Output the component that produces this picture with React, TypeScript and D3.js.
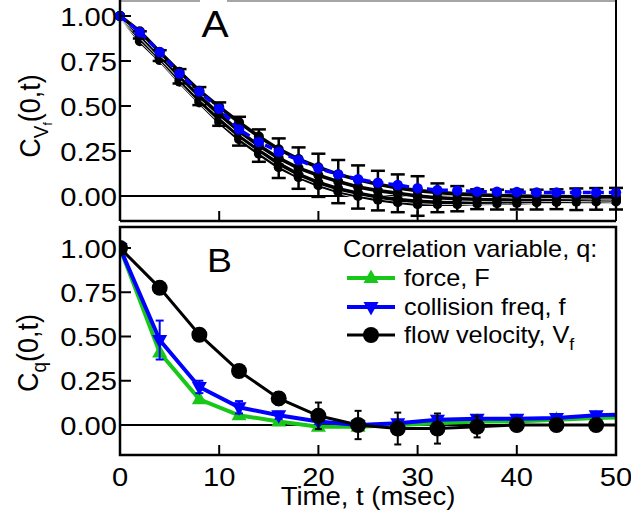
import React from "react";
import * as d3 from "d3";

// ---------- Panel A data (t every 2 ms) ----------
const timesA = [0, 2, 4, 6, 8, 10, 12, 14, 16, 18, 20, 22, 24, 26, 28, 30, 32, 34, 36, 38, 40, 42, 44, 46, 48, 50];
const blackA1 = [1.0, 0.915, 0.8, 0.69, 0.585, 0.495, 0.41, 0.33, 0.26, 0.205, 0.16, 0.12, 0.09, 0.065, 0.045, 0.03, 0.02, 0.012, 0.006, 0.003, 0.0, -0.002, -0.003, -0.004, -0.005, -0.005];
const blackA2 = [1.0, 0.895, 0.78, 0.665, 0.555, 0.455, 0.36, 0.28, 0.21, 0.155, 0.115, 0.08, 0.05, 0.03, 0.015, 0.0, -0.01, -0.015, -0.018, -0.02, -0.02, -0.02, -0.018, -0.018, -0.016, -0.015];
const errA2 = [0, 0.02, 0.03, 0.04, 0.05, 0.065, 0.08, 0.09, 0.11, 0.115, 0.12, 0.12, 0.12, 0.11, 0.105, 0.11, 0.08, 0.07, 0.055, 0.055, 0.055, 0.055, 0.055, 0.06, 0.06, 0.06];
const blackA3 = [1.0, 0.875, 0.765, 0.645, 0.53, 0.425, 0.335, 0.255, 0.18, 0.12, 0.075, 0.04, 0.015, -0.005, -0.02, -0.03, -0.035, -0.035, -0.035, -0.033, -0.032, -0.03, -0.03, -0.028, -0.027, -0.025];
const blackA4 = [1.0, 0.86, 0.755, 0.635, 0.52, 0.41, 0.315, 0.235, 0.16, 0.105, 0.06, 0.025, 0.0, -0.02, -0.035, -0.045, -0.045, -0.045, -0.042, -0.04, -0.038, -0.035, -0.033, -0.032, -0.03, -0.03];
const blueA = [1.0, 0.91, 0.8, 0.68, 0.58, 0.485, 0.37, 0.3, 0.246, 0.2, 0.154, 0.12, 0.093, 0.074, 0.061, 0.043, 0.033, 0.03, 0.024, 0.024, 0.022, 0.02, 0.02, 0.02, 0.02, 0.02];

// ---------- Panel B data (t every 4 ms) ----------
const timesB = [0, 4, 8, 12, 16, 20, 24, 28, 32, 36, 40, 44, 48, 52];
const forceB = [1.0, 0.41, 0.145, 0.055, 0.02, -0.01, -0.01, 0.0, 0.01, 0.02, 0.02, 0.03, 0.04, 0.045];
const collB = [1.0, 0.48, 0.215, 0.1, 0.055, 0.02, 0.0, 0.01, 0.03, 0.035, 0.035, 0.04, 0.055, 0.06];
const collErrB = [0, 0.11, 0.035, 0.035, 0.02, 0.015, 0.015, 0.015, 0.015, 0.015, 0.015, 0.015, 0.015, 0];
const flowB = [1.0, 0.775, 0.51, 0.305, 0.15, 0.052, 0.0, -0.02, -0.02, -0.01, 0.0, 0.0, 0.0, 0.0];
const flowErrB = [0, 0.01, 0.01, 0.015, 0.035, 0.075, 0.08, 0.09, 0.085, 0.06, 0.02, 0.02, 0.02, 0];

const xTicks = [0, 10, 20, 30, 40, 50];
const yTicks = [0, 0.25, 0.5, 0.75, 1.0];
const legendLabels = ["force, F", "collision freq, f", "flow velocity, V"];

const FONT = "'Liberation Sans', Arial, sans-serif";
const SX = 1.1;

const L = 120, R = 616;
const A_TOP = 0, A_BOT = 221;
const B_TOP = 227, B_BOT = 455;

const x = d3.scaleLinear().domain([0, 50]).range([L, R]);
const yA = d3.scaleLinear().domain([0, 1]).range([196, 16]);
const yB = d3.scaleLinear().domain([0, 1]).range([425, 248]);

const GREEN = "#18c818";
const BLUE = "#0000ff";

function T({ x, y, fs, anchor = "start", rot = false, children }: any) {
  return (
    <g transform={`translate(${x},${y}) scale(${SX},1)${rot ? " rotate(-90)" : ""}`}>
      <text fontFamily={FONT} fontSize={fs} textAnchor={anchor} fill="#000">
        {children}
      </text>
    </g>
  );
}

function lineA(vals: number[]) {
  return d3.line<number>().x((_, i) => x(timesA[i])).y((v) => yA(v))(vals) || "";
}
function lineB(vals: number[]) {
  return d3.line<number>().x((_, i) => x(timesB[i])).y((v) => yB(v))(vals) || "";
}

function triPath(up: boolean) {
  return up ? "M0,-8.5L7.5,5L-7.5,5Z" : "M0,8.5L7.5,-5L-7.5,-5Z";
}

export default function App() {
  const blacks = [blackA4, blackA3, blackA2, blackA1];
  return (
    <svg width={631} height={516} style={{ position: "absolute", left: 0, top: 0, background: "#fff" }}>
      <defs>
        <clipPath id="clipB">
          <rect x={L} y={B_TOP} width={R - L} height={B_BOT - B_TOP} />
        </clipPath>
      </defs>
      <rect x={0} y={0} width={631} height={516} fill="#fff" />

      {/* ---------------- Panel A ---------------- */}
      <line x1={L} x2={R} y1={yA(0)} y2={yA(0)} stroke="#000" strokeWidth={2} />
      {blacks.map((vals, k) => (
        <g key={k}>
          <path d={lineA(vals)} fill="none" stroke="#fff" strokeWidth={5} />
          <path d={lineA(vals)} fill="none" stroke="#000" strokeWidth={3.6} />
          {vals.map((v, i) => (
            <circle key={i} cx={x(timesA[i])} cy={yA(v)} r={5} fill="#000" />
          ))}
        </g>
      ))}
      {blackA2.map((v, i) =>
        errA2[i] > 0 ? (
          <g key={i} stroke="#000" strokeWidth={2.5}>
            <line x1={x(timesA[i])} x2={x(timesA[i])} y1={yA(v + errA2[i])} y2={yA(v - errA2[i])} />
            <line x1={x(timesA[i]) - 7} x2={x(timesA[i]) + 7} y1={yA(v + errA2[i])} y2={yA(v + errA2[i])} />
            <line x1={x(timesA[i]) - 7} x2={x(timesA[i]) + 7} y1={yA(v - errA2[i])} y2={yA(v - errA2[i])} />
          </g>
        ) : null
      )}
      <path d={lineA(blueA)} fill="none" stroke={BLUE} strokeWidth={3.5} strokeDasharray="8,5" />
      {blueA.map((v, i) => (
        <circle key={i} cx={x(timesA[i])} cy={yA(v)} r={5.2} fill={BLUE} />
      ))}

      {/* frame A */}
      <line x1={L} x2={200} y1={1} y2={1} stroke="#888" strokeWidth={1.5} />
      <line x1={227} x2={R} y1={1} y2={1} stroke="#888" strokeWidth={1.5} />
      <line x1={L} x2={L} y1={A_TOP} y2={A_BOT} stroke="#000" strokeWidth={2.5} />
      <line x1={R} x2={R} y1={A_TOP} y2={A_BOT} stroke="#000" strokeWidth={2} />
      <line x1={L} x2={R} y1={A_BOT} y2={A_BOT} stroke="#000" strokeWidth={2.5} />
      {xTicks.slice(1, -1).map((t) => (
        <line key={t} x1={x(t)} x2={x(t)} y1={A_BOT} y2={A_BOT - 10} stroke="#000" strokeWidth={2} />
      ))}
      {yTicks.map((t) => (
        <g key={t}>
          <line x1={L} x2={L + 11} y1={yA(t)} y2={yA(t)} stroke="#000" strokeWidth={2} />
          <T x={117} y={yA(t) + 9.5} fs={26.5} anchor="end">{t.toFixed(2)}</T>
        </g>
      ))}
      <T x={215} y={37} fs={37} anchor="middle">A</T>
      <T x={40} y={116} fs={27} anchor="middle" rot>
        <tspan>C</tspan>
        <tspan fontSize={19} dy={7}>V</tspan>
        <tspan fontSize={12} dy={4}>f</tspan>
        <tspan dy={-11}>(0,t)</tspan>
      </T>

      {/* ---------------- Panel B ---------------- */}
      <line x1={L} x2={R} y1={yB(0)} y2={yB(0)} stroke="#000" strokeWidth={2} />
      <g clipPath="url(#clipB)">
        <path d={lineB(forceB)} fill="none" stroke={GREEN} strokeWidth={4} />
        {forceB.map((v, i) => (
          <path key={i} d={triPath(true)} transform={`translate(${x(timesB[i])},${yB(v)})`} fill={GREEN} />
        ))}
        <path d={lineB(collB)} fill="none" stroke={BLUE} strokeWidth={4} />
        {collB.map((v, i) => (
          <g key={i}>
            {collErrB[i] > 0 && (
              <g stroke={BLUE} strokeWidth={2}>
                <line x1={x(timesB[i])} x2={x(timesB[i])} y1={yB(v + collErrB[i])} y2={yB(v - collErrB[i])} />
                <line x1={x(timesB[i]) - 4} x2={x(timesB[i]) + 4} y1={yB(v + collErrB[i])} y2={yB(v + collErrB[i])} />
                <line x1={x(timesB[i]) - 4} x2={x(timesB[i]) + 4} y1={yB(v - collErrB[i])} y2={yB(v - collErrB[i])} />
              </g>
            )}
            <path d={triPath(false)} transform={`translate(${x(timesB[i])},${yB(v)})`} fill={BLUE} />
          </g>
        ))}
        <path d={lineB(flowB)} fill="none" stroke="#000" strokeWidth={3} />
        {flowB.map((v, i) => (
          <g key={i}>
            {flowErrB[i] > 0 && (
              <g stroke="#000" strokeWidth={2}>
                <line x1={x(timesB[i])} x2={x(timesB[i])} y1={yB(v + flowErrB[i])} y2={yB(v - flowErrB[i])} />
                <line x1={x(timesB[i]) - 3.5} x2={x(timesB[i]) + 3.5} y1={yB(v + flowErrB[i])} y2={yB(v + flowErrB[i])} />
                <line x1={x(timesB[i]) - 3.5} x2={x(timesB[i]) + 3.5} y1={yB(v - flowErrB[i])} y2={yB(v - flowErrB[i])} />
              </g>
            )}
            <circle cx={x(timesB[i])} cy={yB(v)} r={8} fill="#000" />
          </g>
        ))}
      </g>

      {/* frame B */}
      <rect x={L} y={B_TOP} width={R - L} height={B_BOT - B_TOP} fill="none" stroke="#000" strokeWidth={2.5} />
      {xTicks.slice(1, -1).map((t) => (
        <line key={t} x1={x(t)} x2={x(t)} y1={B_BOT} y2={B_BOT - 10} stroke="#000" strokeWidth={2} />
      ))}
      {xTicks.map((t) => (
        <T key={t} x={x(t)} y={486} fs={26.5} anchor="middle">{String(t)}</T>
      ))}
      {yTicks.map((t) => (
        <g key={t}>
          <line x1={L} x2={L + 11} y1={yB(t)} y2={yB(t)} stroke="#000" strokeWidth={2} />
          <T x={117} y={yB(t) + 9.5} fs={26.5} anchor="end">{t.toFixed(2)}</T>
        </g>
      ))}
      <T x={219.5} y={272} fs={34} anchor="middle">B</T>
      <T x={38} y={353} fs={27} anchor="middle" rot>
        <tspan>C</tspan>
        <tspan fontSize={19} dy={7}>q</tspan>
        <tspan dy={-7}>(0,t)</tspan>
      </T>
      <T x={368} y={505} fs={25} anchor="middle">Time, t (msec)</T>

      {/* legend */}
      <T x={343} y={257} fs={23}>Correlation variable, q:</T>
      {[GREEN, BLUE, "#000"].map((c, k) => {
        const cy = [278, 307, 335][k];
        return (
          <g key={k}>
            <line x1={347} x2={395} y1={cy} y2={cy} stroke={c} strokeWidth={k === 2 ? 3 : 4} />
            {k === 2 ? (
              <circle cx={371} cy={cy} r={8} fill="#000" />
            ) : (
              <path d={triPath(k === 0)} transform={`translate(371,${cy})`} fill={c} />
            )}
            <T x={404} y={cy + 8} fs={23}>
              {legendLabels[k]}
              {k === 2 && (
                <tspan fontSize={16} dy={7}>f</tspan>
              )}
            </T>
          </g>
        );
      })}
    </svg>
  );
}
